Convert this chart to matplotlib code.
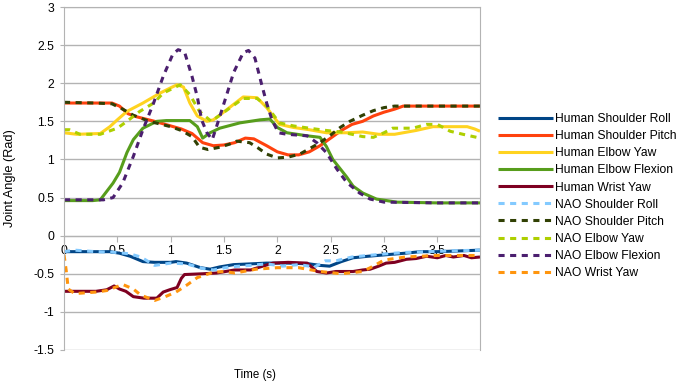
import numpy as np
import matplotlib
matplotlib.use("Agg")
import matplotlib.pyplot as plt

plt.rcParams['font.family'] = ['Liberation Sans', 'DejaVu Sans']

# Human joint angles
hsr_t = [0, 0.2, 0.43, 0.52, 0.62, 0.74, 0.85, 1.0, 1.05, 1.15, 1.28, 1.37, 1.46, 1.59, 1.75, 1.9, 2.1, 2.3, 2.4, 2.49, 2.6, 2.71, 2.85, 3.02, 3.2, 3.34, 3.5, 3.71, 3.9]
hsr_v = [-0.21, -0.21, -0.21, -0.23, -0.27, -0.34, -0.35, -0.35, -0.34, -0.36, -0.42, -0.44, -0.41, -0.38, -0.37, -0.36, -0.36, -0.37, -0.39, -0.40, -0.34, -0.29, -0.27, -0.25, -0.23, -0.21, -0.21, -0.20, -0.19]

hsp_t = [0, 0.3, 0.45, 0.52, 0.6, 0.68, 0.85, 1.0, 1.1, 1.2, 1.3, 1.4, 1.5, 1.6, 1.7, 1.78, 1.9, 2.0, 2.1, 2.2, 2.3, 2.4, 2.5, 2.6, 2.7, 2.8, 2.9, 3.0, 3.1, 3.18, 3.5, 3.9]
hsp_v = [1.74, 1.74, 1.74, 1.70, 1.60, 1.56, 1.50, 1.44, 1.40, 1.34, 1.22, 1.18, 1.19, 1.22, 1.28, 1.27, 1.18, 1.10, 1.06, 1.06, 1.10, 1.18, 1.28, 1.38, 1.46, 1.50, 1.57, 1.62, 1.66, 1.70, 1.70, 1.70]

hey_t = [0, 0.12, 0.34, 0.43, 0.5, 0.59, 0.74, 0.9, 1.0, 1.06, 1.12, 1.18, 1.25, 1.34, 1.4, 1.46, 1.56, 1.68, 1.81, 1.9, 2.02, 2.15, 2.3, 2.46, 2.65, 2.8, 2.95, 3.1, 3.3, 3.46, 3.6, 3.78, 3.85, 3.9]
hey_v = [1.35, 1.33, 1.34, 1.43, 1.52, 1.63, 1.74, 1.87, 1.94, 1.98, 1.95, 1.74, 1.57, 1.50, 1.52, 1.58, 1.69, 1.82, 1.81, 1.68, 1.46, 1.42, 1.39, 1.35, 1.35, 1.36, 1.33, 1.33, 1.38, 1.43, 1.43, 1.43, 1.40, 1.37]

hef_t = [0, 0.27, 0.34, 0.4, 0.46, 0.52, 0.59, 0.65, 0.74, 0.87, 0.96, 1.18, 1.25, 1.3, 1.37, 1.46, 1.65, 1.84, 1.93, 2.0, 2.09, 2.28, 2.4, 2.46, 2.52, 2.65, 2.71, 2.8, 2.93, 3.12, 3.5, 3.9]
hef_v = [0.46, 0.46, 0.47, 0.58, 0.69, 0.83, 1.09, 1.26, 1.41, 1.50, 1.51, 1.51, 1.43, 1.28, 1.35, 1.41, 1.48, 1.52, 1.53, 1.42, 1.35, 1.31, 1.29, 1.17, 1.00, 0.77, 0.65, 0.56, 0.48, 0.44, 0.43, 0.43]

hwy_t = [0, 0.3, 0.4, 0.47, 0.52, 0.58, 0.65, 0.75, 0.87, 0.93, 0.99, 1.06, 1.1, 1.13, 1.3, 1.43, 1.6, 1.75, 1.84, 1.96, 2.1, 2.28, 2.33, 2.37, 2.46, 2.55, 2.71, 2.8, 2.87, 2.95, 3.02, 3.1, 3.21, 3.3, 3.4, 3.5, 3.58, 3.65, 3.75, 3.82, 3.9]
hwy_v = [-0.73, -0.73, -0.71, -0.66, -0.70, -0.73, -0.80, -0.82, -0.82, -0.74, -0.71, -0.68, -0.56, -0.51, -0.50, -0.49, -0.45, -0.45, -0.41, -0.36, -0.35, -0.36, -0.42, -0.47, -0.49, -0.47, -0.47, -0.45, -0.44, -0.40, -0.36, -0.35, -0.31, -0.30, -0.27, -0.29, -0.26, -0.28, -0.26, -0.29, -0.28]

# NAO joint angles
nsr_t = [0, 0.1, 0.3, 0.5, 0.62, 0.72, 0.85, 1.0, 1.15, 1.3, 1.4, 1.55, 1.75, 1.9, 2.05, 2.2, 2.35, 2.45, 2.55, 2.7, 2.85, 3.0, 3.2, 3.4, 3.6, 3.9]
nsr_v = [-0.21, -0.19, -0.21, -0.22, -0.24, -0.28, -0.39, -0.36, -0.37, -0.43, -0.45, -0.41, -0.39, -0.37, -0.40, -0.38, -0.41, -0.33, -0.33, -0.28, -0.26, -0.24, -0.22, -0.21, -0.20, -0.19]

nsp_t = [0, 0.3, 0.45, 0.55, 0.65, 0.8, 1.0, 1.1, 1.2, 1.27, 1.35, 1.46, 1.55, 1.62, 1.74, 1.82, 1.9, 2.0, 2.1, 2.21, 2.3, 2.4, 2.5, 2.59, 2.68, 2.8, 2.9, 3.0, 3.1, 3.5, 3.9]
nsp_v = [1.75, 1.74, 1.73, 1.66, 1.58, 1.50, 1.43, 1.38, 1.30, 1.16, 1.13, 1.16, 1.20, 1.24, 1.22, 1.15, 1.07, 1.02, 1.03, 1.07, 1.14, 1.22, 1.32, 1.42, 1.50, 1.58, 1.64, 1.68, 1.70, 1.70, 1.70]

ney_t = [0, 0.05, 0.15, 0.34, 0.5, 0.59, 0.71, 0.84, 0.93, 1.09, 1.18, 1.27, 1.38, 1.48, 1.56, 1.68, 1.81, 1.9, 2.02, 2.15, 2.3, 2.46, 2.6, 2.8, 2.9, 3.0, 3.08, 3.27, 3.4, 3.5, 3.62, 3.74, 3.9]
ney_v = [1.39, 1.39, 1.33, 1.33, 1.41, 1.50, 1.63, 1.74, 1.87, 1.98, 1.85, 1.63, 1.50, 1.60, 1.68, 1.80, 1.80, 1.70, 1.48, 1.44, 1.41, 1.38, 1.36, 1.30, 1.29, 1.35, 1.41, 1.41, 1.46, 1.46, 1.37, 1.33, 1.28]

nef_t = [0, 0.37, 0.46, 0.55, 0.65, 0.74, 0.84, 0.93, 1.02, 1.07, 1.13, 1.2, 1.25, 1.29, 1.34, 1.39, 1.46, 1.53, 1.59, 1.68, 1.73, 1.79, 1.85, 1.9, 1.95, 2.01, 2.09, 2.28, 2.37, 2.46, 2.56, 2.65, 2.77, 2.87, 3.0, 3.5, 3.9]
nef_v = [0.47, 0.47, 0.50, 0.69, 1.04, 1.39, 1.74, 2.09, 2.38, 2.44, 2.41, 2.09, 1.82, 1.52, 1.35, 1.26, 1.56, 1.87, 2.14, 2.40, 2.43, 2.33, 2.00, 1.74, 1.52, 1.35, 1.33, 1.31, 1.22, 1.09, 0.87, 0.70, 0.56, 0.48, 0.44, 0.43, 0.43]

nwy_t = [0, 0.02, 0.04, 0.1, 0.2, 0.3, 0.4, 0.55, 0.65, 0.72, 0.85, 0.95, 1.05, 1.15, 1.25, 1.4, 1.5, 1.6, 1.8, 2.0, 2.2, 2.4, 2.6, 2.8, 2.9, 3.0, 3.2, 3.5, 3.9]
nwy_v = [-0.25, -0.45, -0.70, -0.76, -0.75, -0.74, -0.72, -0.64, -0.70, -0.78, -0.85, -0.80, -0.74, -0.65, -0.55, -0.48, -0.47, -0.49, -0.44, -0.42, -0.42, -0.47, -0.50, -0.47, -0.40, -0.32, -0.28, -0.26, -0.26]

human = [
    ("Human Shoulder Roll", hsr_t, hsr_v, "#004586"),
    ("Human Shoulder Pitch", hsp_t, hsp_v, "#ff420e"),
    ("Human Elbow Yaw", hey_t, hey_v, "#ffd320"),
    ("Human Elbow Flexion", hef_t, hef_v, "#579d1c"),
    ("Human Wrist Yaw", hwy_t, hwy_v, "#7e0021"),
]
nao = [
    ("NAO Shoulder Roll", nsr_t, nsr_v, "#83caff"),
    ("NAO Shoulder Pitch", nsp_t, nsp_v, "#314004"),
    ("NAO Elbow Yaw", ney_t, ney_v, "#aecf00"),
    ("NAO Elbow Flexion", nef_t, nef_v, "#4b1f6f"),
    ("NAO Wrist Yaw", nwy_t, nwy_v, "#ff950e"),
]

fig = plt.figure(figsize=(6.8, 3.86), dpi=100)
ax = fig.add_axes([64/680, 1-350/386, (480-64)/680, (350-7)/386])

for name, t, v, c in human:
    ax.plot(t, v, color=c, lw=2.2, label=name, solid_capstyle='butt')
for name, t, v, c in nao:
    ax.plot(t, v, color=c, lw=2.2, ls=(0, (2.0, 1.8)), label=name)

ax.set_xlim(0, 3.9)
ax.set_ylim(-1.5, 3)
ax.set_yticks(np.arange(-1.5, 3.01, 0.5))
ax.set_yticklabels(["-1.5", "-1", "-0.5", "0", "0.5", "1", "1.5", "2", "2.5", "3"])
ax.set_xticks(np.arange(0, 3.6, 0.5))
ax.set_xticklabels(["0", "0.5", "1", "1.5", "2", "2.5", "3", "3.5"])
ax.yaxis.grid(True, color="#b3b3b3", lw=1)
ax.set_axisbelow(True)

for s in ["left", "right", "top", "bottom"]:
    ax.spines[s].set_color("#b3b3b3")
ax.spines["bottom"].set_position(("data", 0))
ax.tick_params(axis="y", length=3, color="#b3b3b3", labelsize=8.7, pad=4)
ax.tick_params(axis="x", direction="out", length=4, color="#b3b3b3", labelsize=8.7, pad=3)

ax.set_xlabel("Time (s)", fontsize=8.3)
ax.xaxis.set_label_coords(0.46, -0.055)
ax.set_ylabel("Joint Angle (Rad)", fontsize=9.2)
ax.yaxis.set_label_coords(-0.115, 0.5)

fig.legend(loc="center left", bbox_to_anchor=(0.724, 0.492), frameon=False,
           fontsize=8.7, handlelength=4.5, handletextpad=0.2, labelspacing=0.42,
           borderpad=0)

fig.savefig("out.png", dpi=100)
